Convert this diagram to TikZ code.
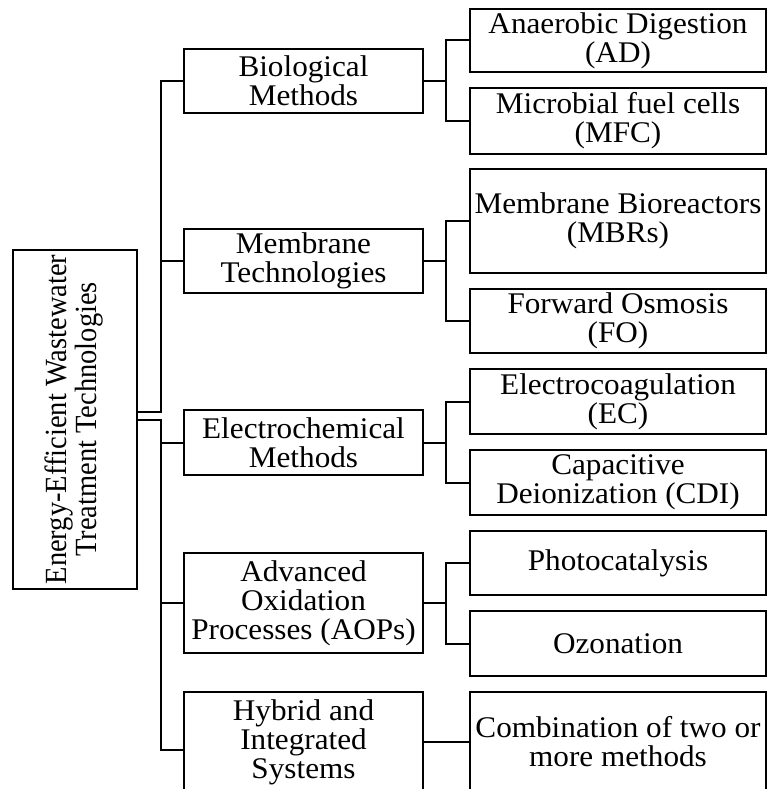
\documentclass[tikz,border=0pt]{standalone}
\usepackage{fontspec}
\setmainfont{Liberation Serif}[FakeStretch=1.04]
\newfontfamily\rootfont{Liberation Serif}
\begin{document}
\begin{tikzpicture}[x=1pt,y=-1pt,
  box/.style={draw=black, line width=2pt, inner sep=0pt, align=center,
    font=\fontsize{30}{29}\selectfont},
  lbox/.style={box, minimum width=239pt},
  rbox/.style={box, minimum width=296pt},
  link/.style={draw=black, line width=2pt}]
\useasboundingbox[fill=white] (0,0) rectangle (768,789);

% root
\node[box, minimum width=124pt, minimum height=339pt] (root) at (75,419.5)
  {\scalebox{1.08}[1]{\rotatebox{90}{\rootfont\fontsize{28.5}{27.5}\selectfont
   \begin{tabular}{@{}c@{}}Energy-Efficient Wastewater\\Treatment Technologies\end{tabular}}}};

% level 1
\node[lbox, minimum height=64pt] (bio) at (303.5,81) {Biological\\Methods};
\node[lbox, minimum height=64pt] (mem) at (303.5,261) {Membrane\\Technologies};
\node[lbox, minimum height=65pt] (elec) at (303.5,442.5) {Electrochemical\\Methods};
\node[lbox, minimum height=100pt] (aop) at (303.5,603) {Advanced\\Oxidation\\Processes (AOPs)};
\node[lbox, minimum height=100pt] (hyb) at (303.5,742) {Hybrid and\\Integrated\\Systems};

% level 2
\node[rbox, minimum height=63pt] (ad) at (618,40.5) {Anaerobic Digestion\\(AD)};
\node[rbox, minimum height=66pt] (mfc) at (618,121) {Microbial fuel cells\\(MFC)};
\node[rbox, minimum height=104pt] (mbr) at (618,221) {Membrane Bioreactors\\(MBRs)};
\node[rbox, minimum height=64pt] (fo) at (618,321) {Forward Osmosis\\(FO)};
\node[rbox, minimum height=65pt] (ec) at (618,401.5) {Electrocoagulation\\(EC)};
\node[rbox, minimum height=65pt] (cdi) at (618,482.5) {Capacitive\\Deionization (CDI)};
\node[rbox, minimum height=64pt] (pho) at (618,563) {Photocatalysis};
\node[rbox, minimum height=65pt] (ozo) at (618,643.5) {Ozonation};
\node[rbox, minimum height=100pt] (comb) at (618,742) {Combination of two or\\more methods};

% trunk coordinates
\coordinate (t1) at (161,412);
\coordinate (t2) at (161,420);
\coordinate (hj) at (161,750);

\draw[link] (t1 -| root.east) -- (t1) |- (bio.west);
\draw[link] (t1) |- (mem.west);
\draw[link] (t2 -| root.east) -- (t2) |- (elec.west);
\draw[link] (t2) |- (aop.west);
\draw[link] (t2) -- (hj) -- (hj -| hyb.west);

% branch junctions
\coordinate (jb) at (446,81);
\coordinate (jm) at (446,261);
\coordinate (je) at (446,442.5);
\coordinate (ja) at (446,603);

\draw[link] (bio.east) -- (jb);
\draw[link] (ad.west) -| (jb) |- (mfc.west);
\draw[link] (mem.east) -- (jm);
\draw[link] (mbr.west) -| (jm) |- (fo.west);
\draw[link] (elec.east) -- (je);
\draw[link] (ec.west) -| (je) |- (cdi.west);
\draw[link] (aop.east) -- (ja);
\draw[link] (pho.west) -| (ja) |- (ozo.west);
\draw[link] (hyb.east) -- (comb.west);
\end{tikzpicture}
\end{document}
